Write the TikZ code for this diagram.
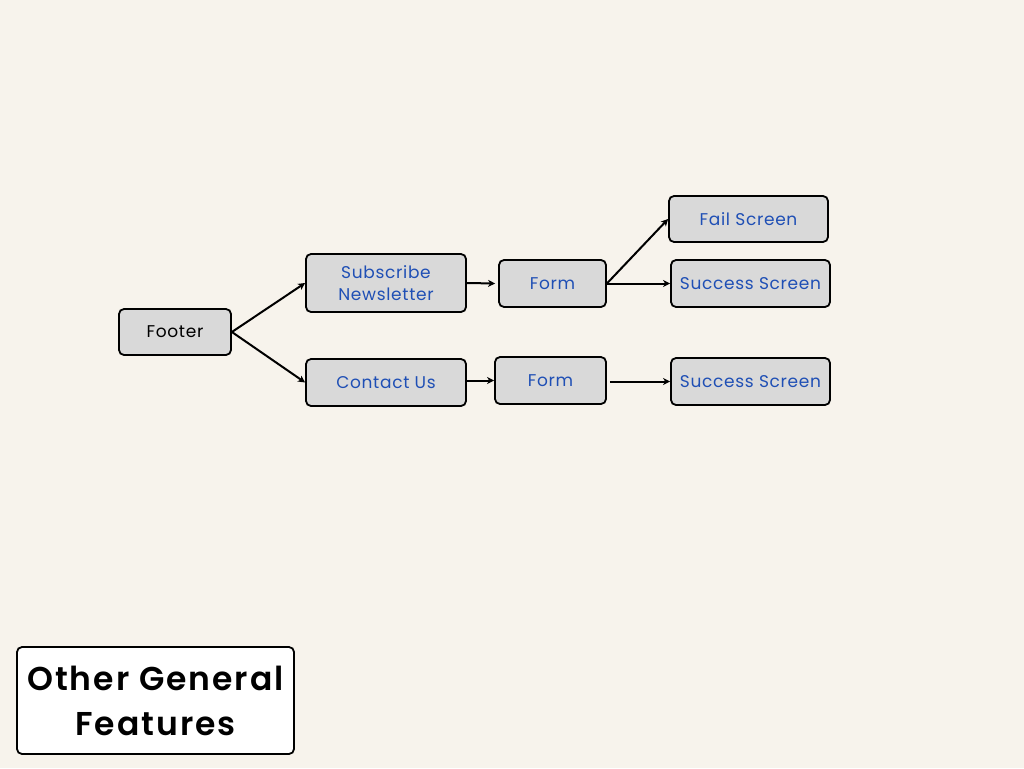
\documentclass[tikz,border=0pt]{standalone}
\usepackage{fontspec}
\setmainfont{Poppins}[LetterSpace=4]
\newfontfamily\titlefont{Poppins}[LetterSpace=6,BoldFont={* SemiBold}]
\usetikzlibrary{arrows.meta}
\definecolor{bg}{HTML}{F7F3EC}
\definecolor{boxfill}{HTML}{D9D9D9}
\definecolor{txtblue}{HTML}{1F4FB5}
\begin{document}
\begin{tikzpicture}[x=1pt,y=-1pt,
  box/.style={draw=black,line width=1.8pt,fill=boxfill,rounded corners=5pt,inner sep=0pt,align=center,text=txtblue,font=\fontsize{17}{22}\selectfont},
  arr/.style={-{Stealth[length=7pt,width=7pt,inset=2pt]},line width=2pt}]
\fill[bg] (0,0) rectangle (1024,768);
\useasboundingbox (0,0) rectangle (1024,768);
\node[box,text=black,minimum width=112pt,minimum height=46pt] (footer) at (175,332) {Footer};
\node[box,minimum width=160pt,minimum height=58pt] (sub) at (386,283) {Subscribe\\Newsletter};
\node[box,minimum width=160pt,minimum height=47pt] (contact) at (386,382.5) {Contact Us};
\node[box,minimum width=107pt,minimum height=47pt] (form1) at (552.5,283.5) {Form};
\node[box,minimum width=111pt,minimum height=47pt] (form2) at (550.5,380.5) {Form};
\node[box,minimum width=159pt,minimum height=46pt] (fail) at (748.5,219) {Fail Screen};
\node[box,minimum width=159pt,minimum height=47pt] (succ1) at (750.5,283.5) {Success Screen};
\node[box,minimum width=159pt,minimum height=47pt] (succ2) at (750.5,381.5) {Success Screen};
\node[draw=black,line width=1.8pt,fill=white,rounded corners=5pt,minimum width=277pt,minimum height=107pt,inner sep=0pt,align=center,font=\titlefont\bfseries\fontsize{33}{45}\selectfont] (title) at (155.5,700.5) {Other General\\Features};
\draw[arr] (footer.east) -- (sub.west);
\draw[arr] (footer.east) -- (contact.west);
\draw[arr] (sub.east) -- ([xshift=-3pt]form1.west);
\draw[arr] (contact.east |- form2.west) -- (form2.west);
\draw[arr] (form1.east) -- (fail.west);
\draw[arr] (form1.east) -- (succ1.west);
\draw[arr] ([xshift=3pt]form2.east |- succ2.west) -- (succ2.west);
\end{tikzpicture}
\end{document}
